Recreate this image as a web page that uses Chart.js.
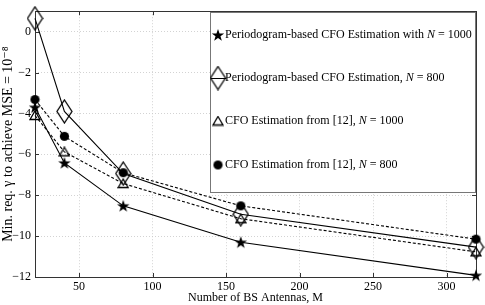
<!DOCTYPE html>
<html>
<head>
<meta charset="utf-8">
<script src="https://cdn.jsdelivr.net/npm/chart.js@4.4.0/dist/chart.umd.min.js"></script>
<style>
  html, body { margin: 0; padding: 0; background: #fff; }
  #wrap { width: 485px; height: 305px; }
</style>
</head>
<body>
<div id="wrap"><canvas id="cfoChart" width="485" height="305"></canvas></div>
<script>
const antennas = [20, 40, 80, 160, 320];
const periodN1000 = [-3.7, -6.42, -8.52, -10.3, -11.92];
const periodN800 = [0.65, -3.9, -6.94, -8.93, -10.54];
const ref12N1000 = [-4.1, -5.88, -7.43, -9.15, -10.77];
const ref12N800 = [-3.32, -5.12, -6.9, -8.52, -10.15];
const xTicks = [50, 100, 150, 200, 250, 300];
const yTicks = [-12, -10, -8, -6, -4, -2, 0];
const legendLabels = [
    ['Periodogram-based CFO Estimation with ', '1000'],
    ['Periodogram-based CFO Estimation, ', '800'],
    ['CFO Estimation from [12], ', '1000'],
    ['CFO Estimation from [12], ', '800']
];

const serif = '"Liberation Serif", "DejaVu Serif", serif';

// marker images
const makeMarker = (w, h, draw) => {
    const c = document.createElement('canvas');
    c.width = w; c.height = h;
    const ctx = c.getContext('2d');
    ctx.strokeStyle = '#000';
    ctx.fillStyle = '#000';
    ctx.lineWidth = 1.3;
    draw(ctx, w, h);
    return c;
}

const starImg = makeMarker(14, 14, (ctx, w, h) => {
    ctx.beginPath();
    for (let i = 0; i < 10; i++) {
        const r = i % 2 === 0 ? 6.5 : 2.6;
        const a = -Math.PI / 2 + i * Math.PI / 5;
        const px = w / 2 + r * Math.cos(a), py = h / 2 + 0.5 + r * Math.sin(a);
        i === 0 ? ctx.moveTo(px, py) : ctx.lineTo(px, py);
    }
    ctx.closePath();
    ctx.fill();
});

const diamondImg = makeMarker(17, 25, (ctx, w, h) => {
    ctx.beginPath();
    ctx.moveTo(w / 2, 1);
    ctx.lineTo(w - 1, h / 2);
    ctx.lineTo(w / 2, h - 1);
    ctx.lineTo(1, h / 2);
    ctx.closePath();
    ctx.stroke();
});

const triImg = makeMarker(12, 11, (ctx, w, h) => {
    ctx.beginPath();
    ctx.moveTo(w / 2, 1);
    ctx.lineTo(w - 1, h - 1.5);
    ctx.lineTo(1, h - 1.5);
    ctx.closePath();
    ctx.stroke();
});

const dotImg = makeMarker(11, 11, (ctx, w, h) => {
    ctx.beginPath();
    ctx.arc(w / 2, h / 2, 4.6, 0, Math.PI * 2);
    ctx.fill();
});

const markers = [starImg, diamondImg, triImg, dotImg];

const mkSet = (label, vals, img, dashed) => ({
    label: label,
    data: antennas.map((m, i) => ({x: m, y: vals[i]})),
    borderColor: '#000',
    borderWidth: 1.1,
    borderDash: dashed ? [3, 2] : [],
    pointStyle: img,
    pointRadius: 6,
    clip: false,
    fill: false,
    tension: 0
});

// ticks pointing inwards on all four sides + frame
const framePlugin = {
    id: 'frame',
    beforeDatasetsDraw(chart) {
        const {ctx, chartArea: a, scales} = chart;
        ctx.save();
        ctx.strokeStyle = '#333';
        ctx.lineWidth = 1;
        ctx.beginPath();
        xTicks.forEach(t => {
            const px = Math.round(scales.x.getPixelForValue(t)) + 0.5;
            ctx.moveTo(px, a.bottom); ctx.lineTo(px, a.bottom - 4);
            ctx.moveTo(px, a.top); ctx.lineTo(px, a.top + 4);
        });
        yTicks.forEach(t => {
            const py = Math.round(scales.y.getPixelForValue(t)) + 0.5;
            ctx.moveTo(a.left, py); ctx.lineTo(a.left + 4, py);
            ctx.moveTo(a.right, py); ctx.lineTo(a.right - 4, py);
        });
        ctx.stroke();
        ctx.strokeRect(Math.round(a.left) + 0.5, Math.round(a.top) + 0.5,
            Math.round(a.right - a.left), Math.round(a.bottom - a.top));
        ctx.restore();
    }
}

// legend box drawn inside the plot
const boxLegend = {
    id: 'boxLegend',
    afterDraw(chart) {
        const ctx = chart.ctx;
        const bx = 210, by = 12, bw = 265, bh = 180;
        ctx.save();
        ctx.fillStyle = '#fff';
        ctx.fillRect(bx, by, bw, bh);
        ctx.strokeStyle = '#777';
        ctx.lineWidth = 1;
        ctx.strokeRect(bx + 0.5, by + 0.5, bw, bh);
        const rows = [35, 78, 121, 165];
        ctx.textBaseline = 'middle';
        ctx.fillStyle = '#000';
        legendLabels.forEach((parts, i) => {
            const y = rows[i];
            const img = markers[i];
            if (i === 1) {
                ctx.beginPath();
                ctx.moveTo(bx + 1, y + 0.5); ctx.lineTo(bx + 16, y + 0.5);
                ctx.strokeStyle = '#000';
                ctx.stroke();
            }
            ctx.drawImage(img, bx + 8 - img.width / 2, y - img.height / 2);
            let tx = bx + 15;
            ctx.font = '12px ' + serif;
            ctx.fillText(parts[0], tx, y);
            tx += ctx.measureText(parts[0]).width;
            ctx.font = 'italic 12px ' + serif;
            ctx.fillText('N', tx, y);
            tx += ctx.measureText('N').width;
            ctx.font = '12px ' + serif;
            ctx.fillText(' = ' + parts[1], tx, y);
        });
        ctx.restore();
    }
}

const chartCtx = document.getElementById('cfoChart');
const cfoChart = new Chart(chartCtx, {
    type: 'line',
    data: {
        datasets: [
            mkSet('Periodogram-based CFO Estimation with N = 1000', periodN1000, starImg, false),
            mkSet('Periodogram-based CFO Estimation, N = 800', periodN800, diamondImg, false),
            mkSet('CFO Estimation from [12], N = 1000', ref12N1000, triImg, true),
            mkSet('CFO Estimation from [12], N = 800', ref12N800, dotImg, true)
        ]
    },
    options: {
        responsive: false,
        animation: false,
        layout: {padding: {top: 10, right: 9, left: 0, bottom: 0}},
        plugins: {
            legend: {display: false},
            tooltip: {enabled: false}
        },
        scales: {
            x: {
                type: 'linear',
                min: 20,
                max: 320,
                afterBuildTicks: s => { s.ticks = xTicks.map(v => ({value: v})) },
                afterFit: s => { s.height = 28 },
                grid: {color: '#c8c8c8', tickLength: 0, drawTicks: false, lineWidth: 0.8},
                border: {display: false, dash: [1, 2]},
                ticks: {color: '#000', padding: 3, font: {family: serif, size: 12}, maxRotation: 0},
                title: {
                    display: true,
                    text: 'Number of BS Antennas, M',
                    color: '#000',
                    padding: {top: -3, bottom: 0},
                    font: {family: serif, size: 12}
                }
            },
            y: {
                min: -12,
                max: 1,
                afterBuildTicks: s => { s.ticks = yTicks.map(v => ({value: v})) },
                afterFit: s => { s.width = 35 },
                grid: {color: '#c8c8c8', drawTicks: false, lineWidth: 0.8},
                border: {display: false, dash: [1, 2]},
                ticks: {
                    color: '#000',
                    padding: 4,
                    font: {family: serif, size: 12},
                    callback: v => v < 0 ? '\u2212' + Math.abs(v) : String(v)
                },
                title: {
                    display: true,
                    text: 'Min. req. \u03b3 to achieve MSE = 10\u207b\u2078',
                    color: '#000',
                    padding: {top: 0, bottom: 2},
                    font: {family: serif, size: 14}
                }
            }
        }
    },
    plugins: [framePlugin, boxLegend]
})
</script>
</body>
</html>
